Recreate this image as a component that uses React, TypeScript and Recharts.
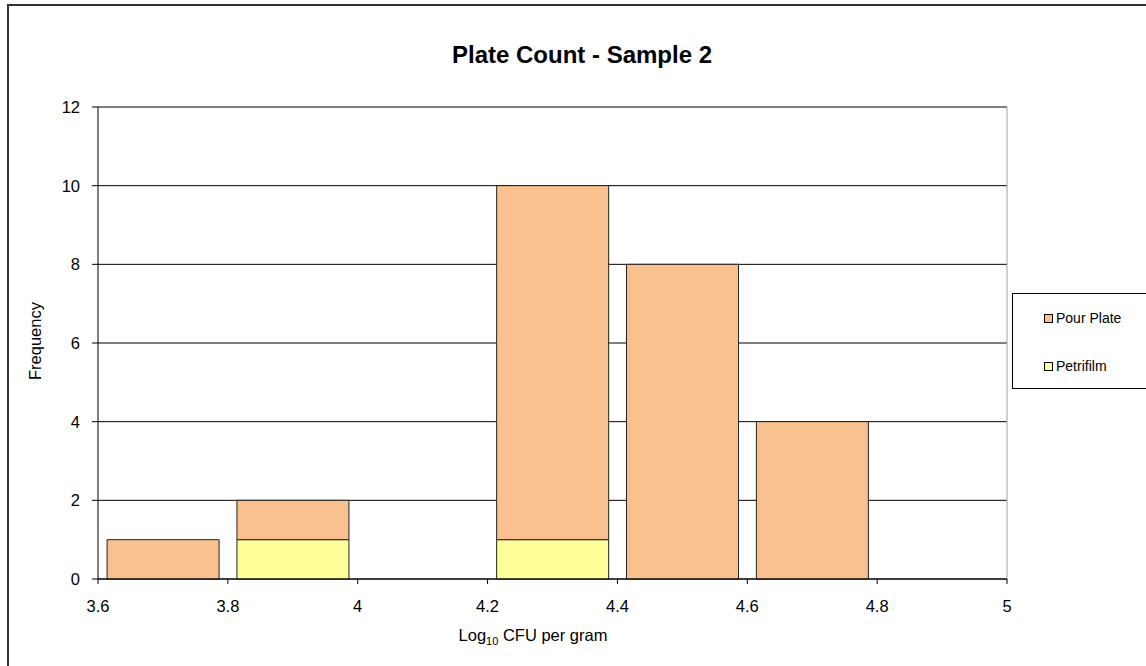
import React from "react";
import { BarChart, Bar, XAxis, YAxis, CartesianGrid, ReferenceLine } from "recharts";

// bin centres (log10 CFU per gram)
const bins = ["3.7", "3.9", "4.1", "4.3", "4.5", "4.7", "4.9"];
const petrifilm = [0, 1, 0, 1, 0, 0, 0];
const pourPlate = [1, 1, 0, 9, 8, 4, 0];

// bin edges shown as tick labels
const edgeLabels = ["3.6", "3.8", "4", "4.2", "4.4", "4.6", "4.8", "5"];
const yTicks = [0, 2, 4, 6, 8, 10, 12];

const POUR = "#F9C090";
const PETRI = "#FFFF99";

const data = bins.map((bin, i) => ({
  bin,
  petrifilm: petrifilm[i],
  pourPlate: pourPlate[i],
}));

const font = '"Liberation Sans", Arial, sans-serif';
const tickStyle = { fontSize: 16.5, fill: "#000", fontFamily: font };

// ticks sit on the bin edges, not the bin centres
const EdgeTick = (props: any) => {
  const { x, y, payload, index } = props;
  const half = payload?.offset ?? 65;
  const left = x - half;
  const right = x + half;
  const last = index === bins.length - 1;
  return (
    <g>
      <line x1={left} x2={left} y1={y} y2={y + 5} stroke="#000" />
      <text x={left} y={y + 21} dy="0.71em" textAnchor="middle" {...tickStyle}>
        {edgeLabels[index]}
      </text>
      {last && (
        <g>
          <line x1={right} x2={right} y1={y} y2={y + 5} stroke="#000" />
          <text x={right} y={y + 21} dy="0.71em" textAnchor="middle" {...tickStyle}>
            {edgeLabels[index + 1]}
          </text>
        </g>
      )}
    </g>
  );
};

const App: React.FC = () => {
  return (
    <div
      style={{
        position: "absolute",
        left: 0,
        top: 0,
        width: 1146,
        height: 666,
        overflow: "hidden",
        background: "#fff",
        fontFamily: font,
      }}
    >
      {/* chart frame, cut off at the right and bottom */}
      <div
        style={{
          position: "absolute",
          left: 7,
          top: 4,
          width: 1200,
          height: 700,
          border: "2px solid #333",
        }}
      />

      <div style={{ position: "absolute", left: 0, top: 0 }}>
        <BarChart
          width={1146}
          height={666}
          data={data}
          margin={{ top: 107, right: 139, bottom: 57, left: 40 }}
          barCategoryGap="7%"
        >
          <CartesianGrid vertical={false} stroke="#000" strokeWidth={1} />
          <CartesianGrid
            horizontal={false}
            stroke="#a0a0a0"
            verticalCoordinatesGenerator={({ offset }: any) => [offset.left + offset.width]}
          />
          <XAxis
            dataKey="bin"
            height={30}
            interval={0}
            tick={<EdgeTick />}
            tickLine={false}
            tickSize={0}
            tickMargin={0}
            axisLine={{ stroke: "#000" }}
          />
          <YAxis
            domain={[0, 12]}
            ticks={yTicks}
            width={58}
            tick={tickStyle}
            tickSize={6}
            tickMargin={12}
            axisLine={{ stroke: "#000" }}
            tickLine={{ stroke: "#000" }}
          />
          <ReferenceLine y={12} stroke="#808080" />
          <Bar
            dataKey="petrifilm"
            stackId="a"
            fill={PETRI}
            stroke="#222"
            strokeWidth={1}
            isAnimationActive={false}
          />
          <Bar
            dataKey="pourPlate"
            stackId="a"
            fill={POUR}
            stroke="#222"
            strokeWidth={1}
            isAnimationActive={false}
          />
        </BarChart>
      </div>

      {/* title */}
      <div
        style={{
          position: "absolute",
          left: 382,
          width: 400,
          top: 41,
          lineHeight: "28px",
          fontSize: 24,
          fontWeight: "bold",
          textAlign: "center",
        }}
      >
        Plate Count - Sample 2
      </div>

      {/* y axis label */}
      <div
        style={{
          position: "absolute",
          left: -65,
          top: 331,
          width: 200,
          height: 20,
          lineHeight: "20px",
          fontSize: 16.5,
          textAlign: "center",
          transform: "rotate(-90deg)",
        }}
      >
        Frequency
      </div>

      {/* x axis label */}
      <div
        style={{
          position: "absolute",
          left: 383,
          width: 300,
          top: 625,
          lineHeight: "20px",
          fontSize: 16.5,
          textAlign: "center",
        }}
      >
        Log<sub style={{ fontSize: 11 }}>10</sub> CFU per gram
      </div>

      {/* legend */}
      <div
        style={{
          position: "absolute",
          left: 1012,
          top: 293,
          width: 140,
          height: 94,
          border: "1px solid #000",
          fontSize: 14,
        }}
      >
        {[
          { name: "Pour Plate", color: POUR, y: 24 },
          { name: "Petrifilm", color: PETRI, y: 72 },
        ].map((item) => (
          <div
            key={item.name}
            style={{
              position: "absolute",
              left: 31,
              top: item.y - 9,
              height: 18,
              lineHeight: "18px",
              display: "flex",
              alignItems: "center",
              whiteSpace: "nowrap",
            }}
          >
            <span
              style={{
                display: "inline-block",
                width: 7,
                height: 7,
                background: item.color,
                border: "1px solid #000",
                marginRight: 3,
              }}
            />
            {item.name}
          </div>
        ))}
      </div>
    </div>
  );
};

export default App;
